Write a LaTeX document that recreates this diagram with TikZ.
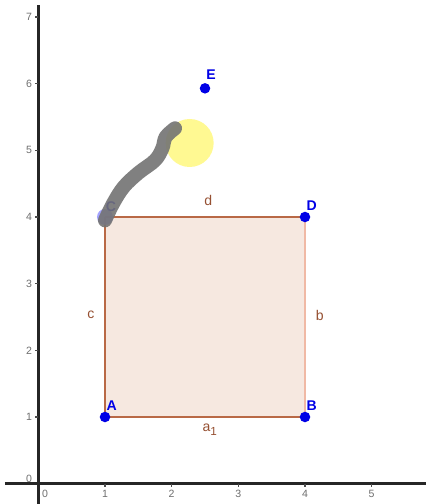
\documentclass[tikz,border=0pt]{standalone}
\usepackage{fontspec}
\setmainfont{Liberation Sans}
\definecolor{sqfill}{RGB}{246,232,224}
\definecolor{sqedge}{RGB}{185,105,70}
\definecolor{sqlight}{RGB}{240,185,165}
\definecolor{lbl}{RGB}{150,80,50}
\definecolor{ptblue}{RGB}{0,0,230}
\definecolor{ticklbl}{RGB}{110,110,110}
\tikzset{
  pt/.style={circle,fill=ptblue,inner sep=0pt,minimum size=10.5pt*0.427},
  ptlabel/.style={text=ptblue,font=\fontsize{6}{7}\selectfont\bfseries,inner sep=0pt},
  seglabel/.style={text=lbl,font=\fontsize{6}{7}\selectfont,inner sep=0pt},
  ticklabel/.style={text=ticklbl,font=\fontsize{4.5}{5}\selectfont,inner sep=0pt},
  axis/.style={line width=1.1pt,black!85},
  edge/.style={line width=0.6pt,sqedge},
}
\begin{document}
\begin{tikzpicture}
\fill[white] (-0.575,-0.305) rectangle (5.815,7.255);
\useasboundingbox (-0.575,-0.305) rectangle (5.815,7.255);
% axes
\coordinate (xl) at (-0.5,0);
\coordinate (xr) at (5.815,0);
\coordinate (yb) at (0,-0.305);
\coordinate (yt) at (0,7.18);
\draw[axis] (xl) -- (xr);
\draw[axis] (yb) -- (yt);
\foreach \i in {1,...,5} {
  \draw[line width=0.5pt,black!70] (\i,0) -- (\i,-0.05);
  \node[ticklabel] (xt\i) at (\i,-0.15) {\i};
}
\node[ticklabel] (xt0) at (0.1,-0.15) {0};
\foreach \i in {1,...,7} {
  \draw[line width=0.5pt,black!70] (0,\i) -- (-0.05,\i);
  \node[ticklabel] (yt\i) at (-0.14,\i) {\i};
}
\node[ticklabel] (yt0) at (-0.14,0.07) {0};
% points
\coordinate (A) at (1,1);
\coordinate (B) at (4,1);
\coordinate (D) at (4,4);
\coordinate (C) at (1,4);
\coordinate (E) at (2.5,5.93);
% square
\fill[sqfill] (A) -- (B) -- (D) -- (C) -- cycle;
\draw[edge] (A) -- (B);
\draw[edge,sqlight] (B) -- (D);
\draw[edge] (D) -- (C);
\draw[edge] (C) -- (A);
% segment labels
\node[seglabel] (la) at (2.58,0.81) {a\textsubscript{1}};
\node[seglabel] (lb) at (4.22,2.53) {b};
\node[seglabel] (lc) at (0.79,2.53) {c};
\node[seglabel] (ld) at (2.55,4.25) {d};
% yellow highlight
\node[circle,fill=yellow!50,fill opacity=0.85,minimum size=0.72cm,inner sep=0pt] (Y) at (2.27,5.11) {};
% point nodes
\node[pt] (pA) at (A) {};
\node[pt] (pB) at (B) {};
\node[pt] (pD) at (D) {};
\node[pt] (pE) at (E) {};
\node[circle,fill=blue!45!white,fill opacity=0.8,minimum size=0.24cm,inner sep=0pt] (pC) at (C) {};
\node[ptlabel] (tA) at (1.1,1.17) {A};
\node[ptlabel] (tB) at (4.1,1.17) {B};
\node[ptlabel] (tD) at (4.1,4.17) {D};
\node[ptlabel] (tE) at (2.59,6.14) {E};
\node[ptlabel] (tC) at (1.09,4.16) {C};
% pen stroke
\draw[line width=6pt,black!55,draw opacity=0.9,line cap=round,line join=round]
  plot[smooth,tension=0.6] coordinates {(1.0,3.95) (1.12,4.2) (1.28,4.45) (1.5,4.66) (1.75,4.85) (1.86,5.03) (1.91,5.2) (2.05,5.33)};
\end{tikzpicture}
\end{document}
